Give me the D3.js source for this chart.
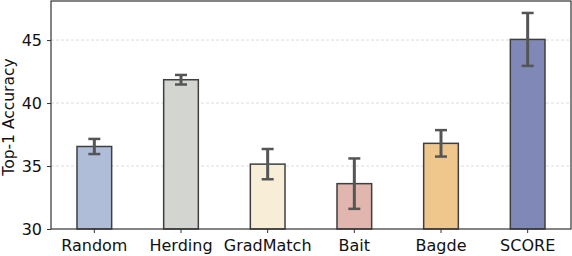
<!DOCTYPE html>
<html>
<head>
<meta charset="utf-8">
<script src="https://cdn.jsdelivr.net/npm/d3@7"></script>
<style>
  body { margin: 0; background: #fff; }
  text { font-family: "DejaVu Sans", sans-serif; }
</style>
</head>
<body>
<div id="chart"></div>
<script>
const methods = ["Random", "Herding", "GradMatch", "Bait", "Bagde", "SCORE"];
const accuracy = [36.55, 41.85, 35.15, 33.6, 36.8, 45.05];
const errors = [0.6, 0.38, 1.2, 2.0, 1.05, 2.1];
const colors = ["#b0bdd9", "#d3d5d1", "#f8edd7", "#e0b6ae", "#efc78c", "#7f88b6"];
const yTicks = [30, 35, 40, 45];

const width = 572, height = 256;
const margin = { top: 1, right: 1, bottom: 27, left: 51 };

const svg = d3.select("#chart").append("svg")
  .attr("width", width).attr("height", height);

const x = d3.scaleBand()
  .domain(methods)
  .range([margin.left, width - margin.right])
  .paddingInner(0.6)
  .paddingOuter(0.3);

const y = d3.scaleLinear()
  .domain([30, 48.1])
  .range([height - margin.bottom, margin.top]);

// grid
svg.append("g").selectAll("line")
  .data(yTicks.slice(1))
  .join("line")
  .attr("x1", margin.left).attr("x2", width - margin.right)
  .attr("y1", d => y(d)).attr("y2", d => y(d))
  .attr("stroke", "#dcdcdc").attr("stroke-width", 1)
  .attr("stroke-dasharray", "3,2");

// bars
svg.append("g").selectAll("rect")
  .data(methods)
  .join("rect")
  .attr("x", d => x(d))
  .attr("width", x.bandwidth())
  .attr("y", (d, i) => y(accuracy[i]))
  .attr("height", (d, i) => y(30) - y(accuracy[i]))
  .attr("fill", (d, i) => colors[i])
  .attr("stroke", "#3f3f3f").attr("stroke-width", 1.5);

// error bars
const eb = svg.append("g").attr("stroke", "#555555").attr("stroke-width", 3);
methods.forEach((m, i) => {
  const cx = x(m) + x.bandwidth() / 2;
  const top = y(accuracy[i] + errors[i]);
  const bot = y(accuracy[i] - errors[i]);
  eb.append("line").attr("x1", cx).attr("x2", cx).attr("y1", top).attr("y2", bot);
  eb.append("line").attr("x1", cx - 6).attr("x2", cx + 6).attr("y1", top).attr("y2", top).attr("stroke-width", 2.5);
  eb.append("line").attr("x1", cx - 6).attr("x2", cx + 6).attr("y1", bot).attr("y2", bot).attr("stroke-width", 2.5);
});

// frame
svg.append("rect")
  .attr("x", margin.left).attr("y", margin.top)
  .attr("width", width - margin.left - margin.right)
  .attr("height", height - margin.top - margin.bottom)
  .attr("fill", "none").attr("stroke", "#333").attr("stroke-width", 1.2);

// axes
const xAxis = svg.append("g")
  .attr("transform", `translate(0,${height - margin.bottom})`)
  .call(d3.axisBottom(x).tickSize(4).tickPadding(7));
xAxis.select(".domain").remove();
xAxis.selectAll("line").attr("stroke", "#333");
xAxis.selectAll("text").attr("font-size", 16).attr("fill", "#111")
  .style("font-family", "DejaVu Sans");

const yAxis = svg.append("g")
  .attr("transform", `translate(${margin.left},0)`)
  .call(d3.axisLeft(y).tickValues(yTicks).tickSize(4).tickPadding(5));
yAxis.select(".domain").remove();
yAxis.selectAll("line").attr("stroke", "#333");
yAxis.selectAll("text").attr("font-size", 16).attr("fill", "#111")
  .style("font-family", "DejaVu Sans");

svg.append("text")
  .attr("transform", `translate(14,${(margin.top + height - margin.bottom) / 2 + 2}) rotate(-90)`)
  .attr("text-anchor", "middle")
  .attr("font-size", 15.5).attr("fill", "#111")
  .text("Top-1 Accuracy");
</script>
</body>
</html>
